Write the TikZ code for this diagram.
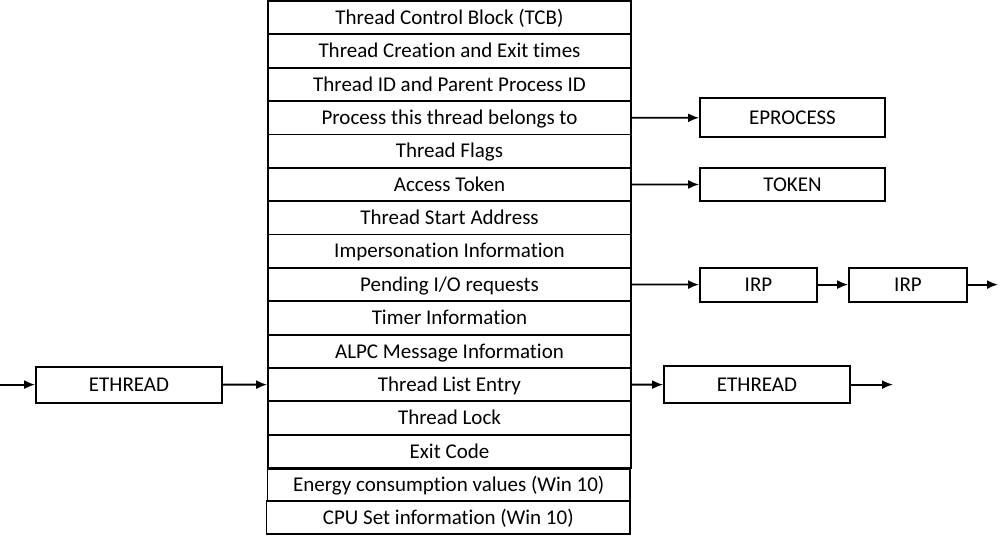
\documentclass[tikz,border=0pt]{standalone}
\usepackage{fontspec}
\setmainfont{Carlito}[Ligatures=NoCommon]
\usetikzlibrary{arrows.meta}
\begin{document}
\begin{tikzpicture}[x=1pt,y=-1pt,
  every node/.style={font=\fontsize{21}{24}\selectfont, inner sep=0pt,
    text height=13.5pt, text depth=0pt},
  cell/.style={draw, line width=1.8pt, minimum width=363pt, minimum height=33.36pt},
  box/.style={draw, line width=1.8pt, minimum height=#1},
  arr/.style={line width=1.8pt, -{Latex[length=11pt,width=9pt]}}]
\useasboundingbox (0,0) rectangle (1000,535);
% thread object fields
\foreach \t [count=\i] in {Thread Control Block (TCB),
  Thread Creation and Exit times,
  Thread ID and Parent Process ID,
  Process this thread belongs to,
  Thread Flags,
  Access Token,
  Thread Start Address,
  Impersonation Information,
  Pending I/O requests,
  Timer Information,
  ALPC Message Information,
  Thread List Entry,
  Thread Lock,
  Exit Code}
  \node[cell] (f\i) at (449.5,{1+33.36*(\i-0.5)}) {\t};
\node[cell, minimum width=362.5pt, minimum height=32pt] (f15) at (448.8,485) {Energy consumption values (Win 10)};
\node[cell, minimum width=363.5pt, minimum height=33pt] (f16) at (448.3,517.5) {CPU Set information (Win 10)};
% referenced objects
\node[box=39pt, minimum width=185pt] (eproc) at (792.5,117.8) {EPROCESS};
\node[box=33pt, minimum width=185pt] (token) at (792.5,184.5) {TOKEN};
\node[box=34pt, minimum width=117pt] (irpa) at (758.5,284.6) {IRP};
\node[box=34pt, minimum width=118pt] (irpb) at (908,284.6) {IRP};
\node[box=37pt, minimum width=186pt] (ethr) at (757,384.6) {ETHREAD};
\node[box=36pt, minimum width=186pt] (ethl) at (129,384.6) {ETHREAD};
\coordinate (inl) at (0,384.6);
\coordinate (outr) at (893,384.6);
\coordinate (outirp) at (998,284.6);
% links
\draw[arr] (f4.east) -- (eproc.west);
\draw[arr] (f6.east) -- (token.west);
\draw[arr] (f9.east) -- (irpa.west);
\draw[arr] (irpa.east) -- (irpb.west);
\draw[arr] (irpb.east) -- (outirp);
\draw[arr] (f12.east) -- (ethr.west);
\draw[arr] (ethr.east) -- (outr);
\draw[arr] (inl) -- (ethl.west);
\draw[arr] (ethl.east) -- (f12.west);
\end{tikzpicture}
\end{document}
